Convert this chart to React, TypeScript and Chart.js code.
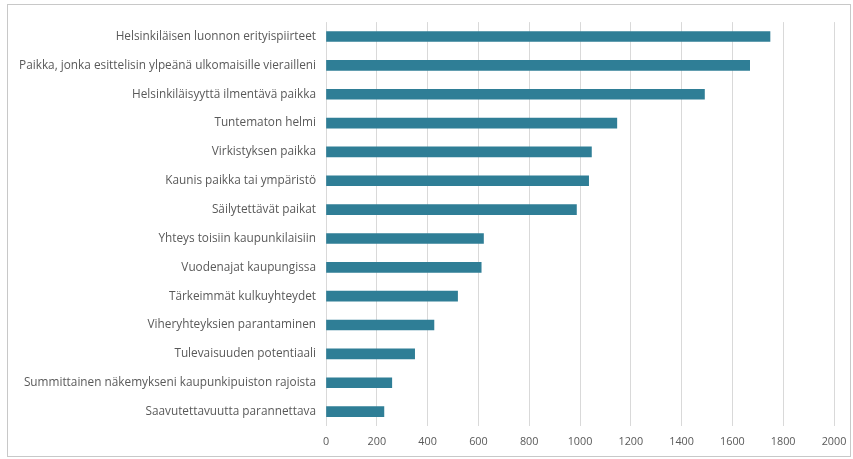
import React, { useEffect, useRef } from "react";
import { Chart, registerables } from "chart.js";

Chart.register(...registerables);

const categories = [
  "Helsinkiläisen luonnon erityispiirteet",
  "Paikka, jonka esittelisin ylpeänä ulkomaisille vierailleni",
  "Helsinkiläisyyttä ilmentävä paikka",
  "Tuntematon helmi",
  "Virkistyksen paikka",
  "Kaunis paikka tai ympäristö",
  "Säilytettävät paikat",
  "Yhteys toisiin kaupunkilaisiin",
  "Vuodenajat kaupungissa",
  "Tärkeimmät kulkuyhteydet",
  "Viheryhteyksien parantaminen",
  "Tulevaisuuden potentiaali",
  "Summittainen näkemykseni kaupunkipuiston rajoista",
  "Saavutettavuutta parannettava",
];

const values = [1748, 1668, 1490, 1145, 1045, 1034, 986, 620, 611, 518, 425, 349, 259, 228];

const xMin = 0;
const xMax = 2000;
const xStep = 200;

export default function App() {
  const ref = useRef<HTMLCanvasElement>(null);
  useEffect(() => {
    if (!ref.current) return;
    const font = { family: "'Open Sans', sans-serif", size: 11.8 };
    const xFont = { family: "'Open Sans', sans-serif", size: 10.8 };
    const chart = new Chart(ref.current, {
      type: "bar",
      data: {
        labels: categories,
        datasets: [
          {
            data: values,
            backgroundColor: "#2F7E96",
            barThickness: 10,
          },
        ],
      },
      options: {
        indexAxis: "y",
        animation: false,
        responsive: false,
        maintainAspectRatio: false,
        layout: { padding: { top: 15, right: 19, bottom: 6, left: 0 } },
        plugins: { legend: { display: false }, tooltip: { enabled: false } },
        scales: {
          x: {
            min: xMin,
            max: xMax,
            ticks: {
              stepSize: xStep,
              color: "#595959",
              font: xFont,
              padding: 9,
              callback: (v: any) => String(v),
            },
            grid: { color: "#d9d9d9", drawTicks: false },
            border: { display: false },
            afterFit: (scale: any) => {
              scale.height = 24;
              scale.paddingRight = 0;
              scale.paddingLeft = 0;
            },
          },
          y: {
            ticks: { color: "#595959", font, padding: 10, autoSkip: false },
            grid: { display: false, drawTicks: false },
            border: { display: false },
            afterFit: (scale: any) => {
              scale.width = 318;
            },
          },
        },
      },
    });
    return () => chart.destroy();
  }, []);
  return (
    <div style={{ position: "absolute", left: 0, top: 0, width: 853, height: 459, overflow: "hidden", background: "#fff" }}>
      <canvas
        ref={ref}
        width={845}
        height={451}
        style={{ display: "block", position: "absolute", left: 8, top: 5 }}
      />
      <div
        style={{
          position: "absolute",
          left: 7,
          top: 4,
          width: 842,
          height: 451,
          border: "1px solid #c8c8c8",
          pointerEvents: "none",
        }}
      />
    </div>
  );
}
